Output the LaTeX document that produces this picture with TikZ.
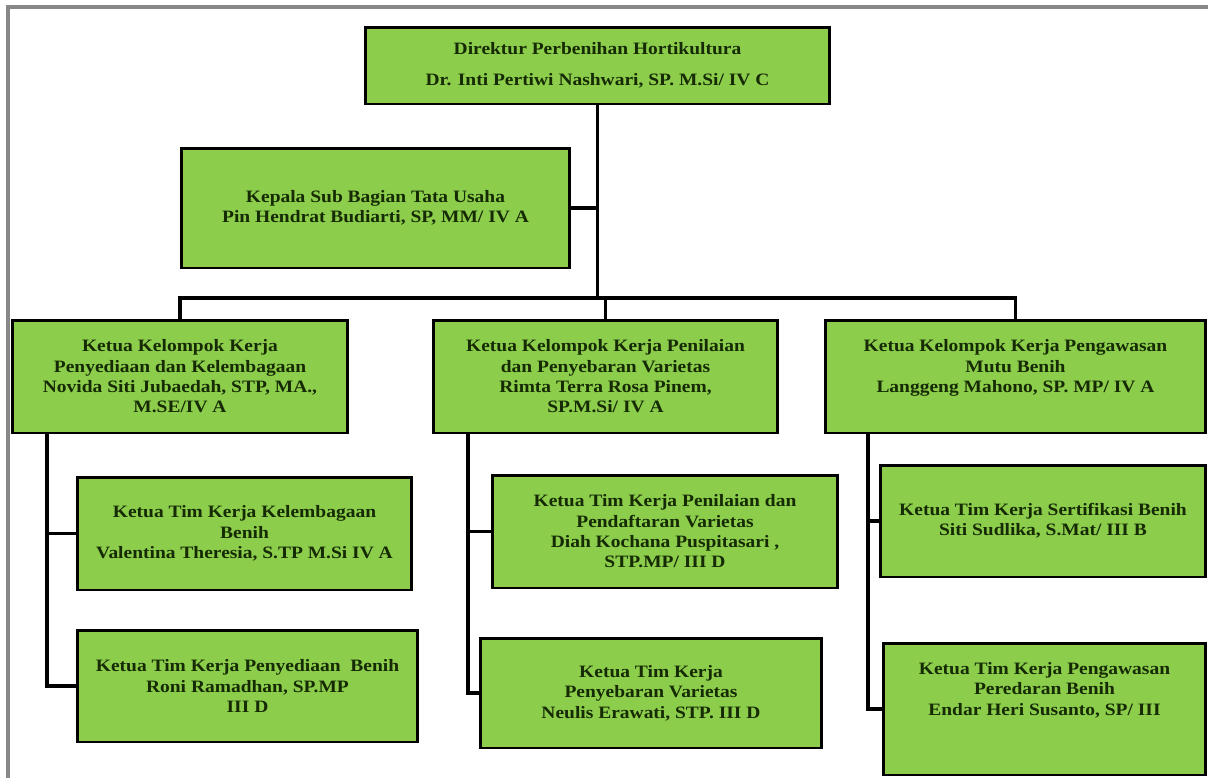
\documentclass[tikz,border=0pt]{standalone}
\usepackage{fontspec}
\setmainfont[FakeStretch=1.12]{Liberation Serif}
\definecolor{boxgreen}{RGB}{140,206,76}
\definecolor{txtdark}{RGB}{22,42,4}
\definecolor{framegray}{RGB}{135,135,135}
\begin{document}
\begin{tikzpicture}[x=0.02cm,y=-0.02cm,
  orgbox/.style={rectangle, draw=black, line width=1.7pt, fill=boxgreen,
    text=txtdark, font=\fontsize{9.9}{11.6}\selectfont\bfseries, align=center, inner sep=0pt},
  link/.style={draw=black, line width=1.8pt}]
\useasboundingbox (0,0) rectangle (1208,778);
\fill[white] (0,0) rectangle (1208,778);
\draw[framegray, line width=1.8pt] (8,778) -- (8,7) -- (1208,7);

\node[orgbox, minimum width=9.3cm, minimum height=1.54cm] (dir) at (597.5,65.5)
  {Direktur Perbenihan Hortikultura\\[6pt]Dr. Inti Pertiwi Nashwari, SP. M.Si/ IV C};
\node[orgbox, minimum width=7.78cm, minimum height=2.4cm] (kep) at (375.5,208)
  {Kepala Sub Bagian Tata Usaha\\Pin Hendrat Budiarti, SP, MM/ IV A};

\node[orgbox, minimum width=6.72cm, minimum height=2.26cm] (l2a) at (180,376.5)
  {Ketua Kelompok Kerja\\Penyediaan dan Kelembagaan\\Novida Siti Jubaedah, STP, MA.,\\M.SE/IV A};
\node[orgbox, minimum width=6.9cm, minimum height=2.26cm] (l2b) at (605.5,376.5)
  {Ketua Kelompok Kerja Penilaian\\dan Penyebaran Varietas\\Rimta Terra Rosa Pinem,\\SP.M.Si/ IV A};
\node[orgbox, minimum width=7.62cm, minimum height=2.26cm] (l2c) at (1015.5,376.5)
  {Ketua Kelompok Kerja Pengawasan\\Mutu Benih\\Langgeng Mahono, SP. MP/ IV A\\\mbox{}};

\node[orgbox, minimum width=6.7cm, minimum height=2.26cm] (a1) at (244.5,533.5)
  {Ketua Tim Kerja Kelembagaan\\Benih\\Valentina Theresia, S.TP M.Si IV A};
\node[orgbox, minimum width=6.82cm, minimum height=2.24cm] (a2) at (247.5,686)
  {Ketua Tim Kerja Penyediaan\ \ Benih\\Roni Ramadhan, SP.MP\\III D};
\node[orgbox, minimum width=6.92cm, minimum height=2.26cm] (b1) at (665,531.5)
  {Ketua Tim Kerja Penilaian dan\\Pendaftaran Varietas\\Diah Kochana Puspitasari ,\\STP.MP/ III D};
\node[orgbox, minimum width=6.84cm, minimum height=2.2cm] (b2) at (651,693)
  {Ketua Tim Kerja\\Penyebaran Varietas\\Neulis Erawati, STP. III D};
\node[orgbox, minimum width=6.52cm, minimum height=2.24cm] (c1) at (1043,521)
  {Ketua Tim Kerja Sertifikasi Benih\\Siti Sudlika, S.Mat/ III B};
\node[orgbox, minimum width=6.46cm, minimum height=2.64cm] (c2) at (1044.5,709)
  {Ketua Tim Kerja Pengawasan\\Peredaran Benih\\Endar Heri Susanto, SP/ III\\\mbox{}\\\mbox{}};

% trunk and bus
\coordinate (bus) at (597.5,298);
\draw[link] (dir.south) -- (bus);
\draw[link] (kep.east) -- (kep.east -| dir.south);
\draw[link] (l2a.north) -- (l2a.north |- bus) -- (l2c.north |- bus) -- (l2c.north);
\draw[link] (l2b.north) -- (l2b.north |- bus);

% spines
\coordinate (sa) at (47,0);
\coordinate (sb) at (468,0);
\coordinate (sc) at (868,0);
\draw[link] (l2a.south -| sa) |- (a2.west);
\draw[link] (a1.west) -- (a1.west -| sa);
\draw[link] (l2b.south -| sb) |- (b2.west);
\draw[link] (b1.west) -- (b1.west -| sb);
\draw[link] (l2c.south -| sc) |- (c2.west);
\draw[link] (c1.west) -- (c1.west -| sc);
\end{tikzpicture}
\end{document}
